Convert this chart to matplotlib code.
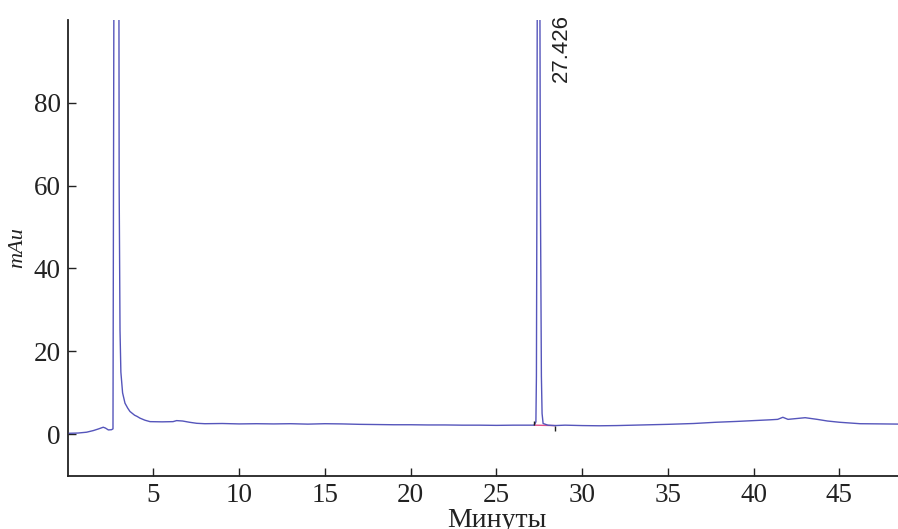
import numpy as np
import matplotlib
matplotlib.use("Agg")
from matplotlib import pyplot as plt

# хроматограмма: время (мин) и сигнал (mAu)
t = [0.1, 0.6, 1.1, 1.5, 1.8, 2.07, 2.2, 2.37, 2.55, 2.64, 2.67, 2.72, 2.85,
     2.97, 3.0, 3.05, 3.1, 3.2, 3.34, 3.5, 3.63, 3.9, 4.05, 4.21, 4.5, 4.8,
     5.5, 6.14, 6.35, 6.7, 7.1, 7.52, 8.0, 9.0, 10.0, 11.0, 12.0, 13.0, 14.0,
     15.0, 16.0, 17.0, 18.0, 19.0, 20.0, 21.0, 22.0, 23.0, 24.0, 25.0, 26.0,
     26.5, 27.2, 27.30, 27.33, 27.36, 27.38, 27.426, 27.53, 27.56, 27.62,
     27.66, 27.72, 28.0, 28.4, 29.0, 30.0, 31.0, 32.0, 33.0, 34.0, 35.0,
     36.5, 37.8, 39.0, 40.0, 41.0, 41.4, 41.7, 42.0, 42.5, 43.0, 43.7, 44.3,
     45.0, 46.2, 47.5, 48.6, 50.0]
mau = [0.24, 0.3, 0.5, 0.9, 1.3, 1.7, 1.5, 1.05, 1.1, 1.3, 60, 160, 180,
       160, 60, 25, 15, 10, 7.5, 6.3, 5.5, 4.6, 4.3, 3.9, 3.4, 3.05,
       3.0, 3.05, 3.3, 3.2, 2.9, 2.65, 2.55, 2.6, 2.5, 2.55, 2.5, 2.55, 2.45,
       2.55, 2.5, 2.4, 2.35, 2.3, 2.3, 2.25, 2.25, 2.2, 2.2, 2.15, 2.2,
       2.2, 2.2, 3.0, 14, 60, 110, 200, 110, 60, 14,
       5, 2.6, 2.2, 2.1, 2.2, 2.1, 2.05, 2.1, 2.2, 2.3, 2.4,
       2.6, 2.9, 3.1, 3.3, 3.5, 3.6, 4.1, 3.6, 3.8, 4.0, 3.6, 3.2,
       2.9, 2.55, 2.5, 2.45, 2.4]

# базовая линия интегрирования пика 27.426
base_t = [27.2, 28.4]
base_v = [2.2, 2.1]
peak_rt = 27.426

plt.rcParams['font.family'] = ['Liberation Serif', 'DejaVu Serif']

fig = plt.figure(figsize=(8.98, 5.29), dpi=100)
ax = fig.add_axes([0.0754, 0.1007, 0.9549, 0.8619])

ax.plot(base_t, base_v, color='#e0508a', lw=1.0, zorder=2)
ax.plot(t, mau, color='#5555bb', lw=1.0, zorder=3)
ax.vlines(base_t[0], base_v[0], base_v[0] + 1.1, color='#222222', lw=1.0, zorder=4)
ax.vlines(base_t[1], base_v[1] - 1.2, base_v[1], color='#222222', lw=1.0, zorder=4)

ax.annotate(f"{peak_rt:.3f}", xy=(peak_rt, 100), xycoords='data',
            xytext=(23, 6), textcoords='offset pixels', rotation=90,
            ha='center', va='top', fontsize=16, family='Liberation Sans',
            color='#222222', annotation_clip=False)

ax.set_xlim(0, 50)
ax.set_ylim(-10, 100)
ax.set_xticks([5, 10, 15, 20, 25, 30, 35, 40, 45])
ax.set_yticks([0, 20, 40, 60, 80])

for s in ['top', 'right']:
    ax.spines[s].set_visible(False)
for s in ['left', 'bottom']:
    ax.spines[s].set_linewidth(1.3)
    ax.spines[s].set_color('#222222')

ax.tick_params(direction='in', length=6, width=1.0, labelsize=19.5,
               colors='#222222', pad=5)
ax.set_xlabel("Минуты", fontsize=20, labelpad=0, color='#222222')
ax.set_ylabel("mAu", fontsize=16, style='italic', color='#222222', labelpad=5)

fig.savefig("out.png", dpi=100)
